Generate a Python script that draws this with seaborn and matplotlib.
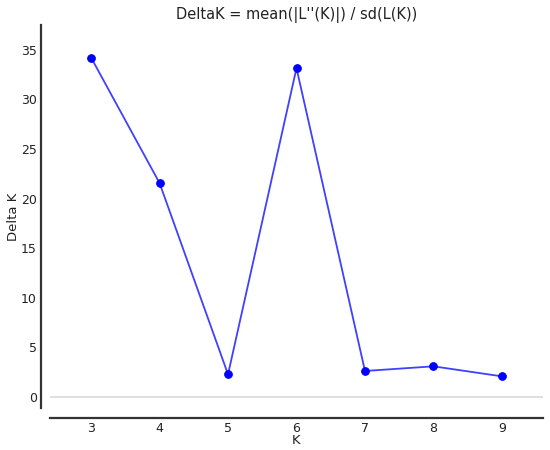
import matplotlib
matplotlib.use("Agg")
import matplotlib.pyplot as plt
import seaborn as sns
import pandas as pd

K = [3, 4, 5, 6, 7, 8, 9]
delta_k = [34.22, 21.57, 2.29, 33.15, 2.63, 3.10, 2.09]
x_ticks = [3, 4, 5, 6, 7, 8, 9]
y_ticks = [0, 5, 10, 15, 20, 25, 30, 35]

df = pd.DataFrame({"K": K, "Delta K": delta_k})

sns.set_style("white")
plt.rcParams['font.family'] = ['DejaVu Sans']

fig = plt.figure(figsize=(5.5, 4.5), dpi=100)
ax = fig.add_axes([50/550, 1-408/450, (543-50)/550, (408-25)/450])

ax.axhline(0, color="#d9d9d9", lw=1.2, zorder=1)
sns.lineplot(data=df, x="K", y="Delta K", ax=ax, color="#4040ff", lw=1.3,
             marker="o", markersize=5.5, markerfacecolor="#0000ff",
             markeredgecolor="#0000ff", zorder=3)

ax.set_xlim(2.4, 9.6)
ax.set_ylim(-1.1, 37.5)
ax.set_xticks(x_ticks)
ax.set_yticks(y_ticks)

for s in ["top", "right"]:
    ax.spines[s].set_visible(False)
ax.spines["left"].set_position(("outward", 6.5))
ax.spines["bottom"].set_position(("outward", 7.2))
for s in ["left", "bottom"]:
    ax.spines[s].set_color("#333333")
    ax.spines[s].set_linewidth(1.6)

ax.tick_params(direction="in", length=3.5, width=0.8, color="#555555",
               labelsize=9, labelcolor="#222222", pad=3)

ax.set_title("DeltaK = mean(|L''(K)|) / sd(L(K))", fontsize=10.5, color="#222222", pad=4)
ax.set_xlabel("K", fontsize=9.5, color="#222222", labelpad=-1)
ax.set_ylabel("Delta K", fontsize=9.5, color="#222222", labelpad=1)

fig.savefig("out.png", dpi=100)
